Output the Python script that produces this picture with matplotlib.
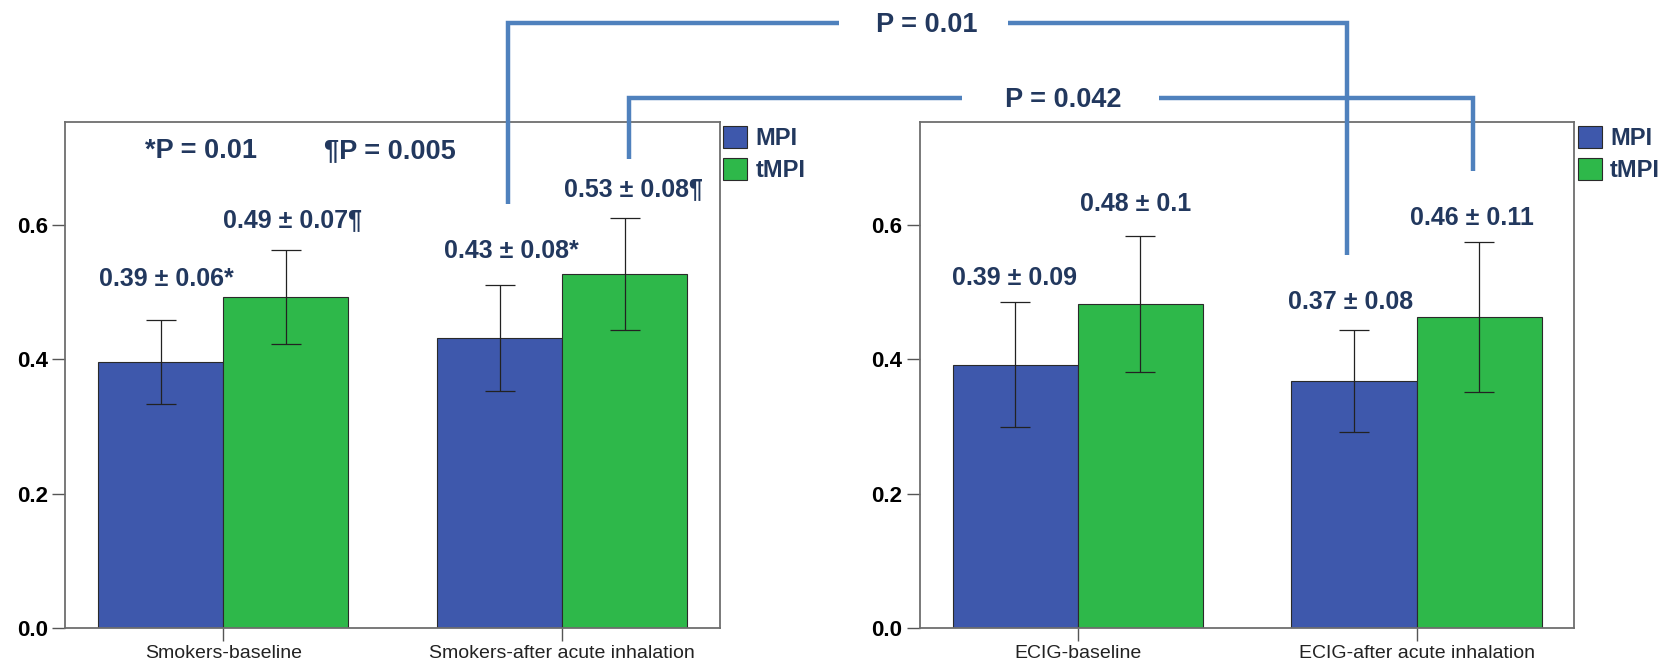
import matplotlib
matplotlib.use("Agg")
import matplotlib.pyplot as plt
import matplotlib.transforms as mtrans
from matplotlib.lines import Line2D
import numpy as np

plt.rcParams['font.family'] = ['Liberation Sans', 'DejaVu Sans']

W, H = 1679, 666

# ---- data ----
series = ["MPI", "tMPI"]
groups_left = ["Smokers-baseline", "Smokers-after acute inhalation"]
groups_right = ["ECIG-baseline", "ECIG-after acute inhalation"]

mpi_left = [0.396, 0.432]
mpi_left_err = [0.063, 0.079]
tmpi_left = [0.493, 0.527]
tmpi_left_err = [0.070, 0.083]

mpi_right = [0.392, 0.368]
mpi_right_err = [0.093, 0.076]
tmpi_right = [0.482, 0.463]
tmpi_right_err = [0.101, 0.112]

labels_left = ["0.39 ± 0.06*", "0.43 ± 0.08*", "0.49 ± 0.07¶", "0.53 ± 0.08¶"]
labels_right = ["0.39 ± 0.09", "0.37 ± 0.08", "0.48 ± 0.1", "0.46 ± 0.11"]

yticks = [0.0, 0.2, 0.4, 0.6]

# ---- style ----
c_mpi = '#3E58AC'
c_tmpi = '#2EB84A'
navy = '#22385e'
bracket_c = '#4F81BD'
bw = 0.369

# label layout: x in data units, baseline in figure pixels (from top)
lab_x_left = [-0.167, 0.850, 0.203, 1.211]
lab_y_left = [285.9, 257.8, 227.1, 196.4]
lab_x_right = [-0.187, 0.805, 0.170, 1.163]
lab_y_right = [285.2, 308.7, 211.2, 225.3]


def fx(x):
    return x / W


def fy(y):
    return 1 - y / H


def draw_panel(ax, groups, mpi, mpi_err, tmpi, tmpi_err, labels, lab_x, lab_y):
    x = np.arange(len(groups))
    b1 = ax.bar(x - bw / 2, mpi, bw, color=c_mpi, edgecolor='#2a2a2a', linewidth=0.8, label=series[0])
    b2 = ax.bar(x + bw / 2, tmpi, bw, color=c_tmpi, edgecolor='#2a2a2a', linewidth=0.8, label=series[1])
    ax.errorbar(x - bw / 2, mpi, yerr=mpi_err, fmt='none', ecolor='#222222',
                elinewidth=0.9, capsize=11, capthick=0.9)
    ax.errorbar(x + bw / 2, tmpi, yerr=tmpi_err, fmt='none', ecolor='#222222',
                elinewidth=0.9, capsize=11, capthick=0.9)
    ax.set_xlim(-0.466, 1.465)
    ax.set_ylim(0, 0.753)
    ax.set_xticks(x)
    ax.set_xticklabels(groups, fontsize=14, color='#222222')
    ax.set_yticks(yticks)
    ax.set_yticklabels(["{0:.1f}".format(t) for t in yticks], fontsize=16, fontweight='bold')
    ax.tick_params(axis='both', direction='out', length=9.5, width=1, color='#555555')
    ax.tick_params(axis='y', pad=3)
    ax.tick_params(axis='x', pad=3)
    for s in ax.spines.values():
        s.set_color('#6e6e6e')
        s.set_linewidth(1.3)
    leg = ax.legend(handles=[b1, b2], labels=series, loc='upper left', bbox_to_anchor=(1.0, 1.0),
                    frameon=False, prop={'weight': 'bold', 'size': 17}, labelcolor=navy,
                    handlelength=1.02, handleheight=1.06, handletextpad=0.35,
                    labelspacing=0.35, borderaxespad=0, borderpad=0.15)
    trans = mtrans.blended_transform_factory(ax.transData, ax.figure.transFigure)
    for t, lx, ly in zip(labels, lab_x, lab_y):
        ax.text(lx, fy(ly), t, transform=trans, ha='center', va='baseline',
                fontsize=18, fontweight='bold', color=navy, clip_on=False)


fig = plt.figure(figsize=(W / 100, H / 100), dpi=100)
ax1 = fig.add_axes([0.03895, 0.05736, 0.3898, 0.7589])
ax2 = fig.add_axes([0.5478, 0.05736, 0.3897, 0.7589])

draw_panel(ax1, groups_left, mpi_left, mpi_left_err, tmpi_left, tmpi_left_err,
           labels_left, lab_x_left, lab_y_left)
draw_panel(ax2, groups_right, mpi_right, mpi_right_err, tmpi_right, tmpi_right_err,
           labels_right, lab_x_right, lab_y_right)

# significance notes in left panel
fig.text(fx(201), fy(157.8), "*P = 0.01", ha='center', va='baseline',
         fontsize=19.5, fontweight='bold', color=navy)
fig.text(fx(390), fy(157.8), "¶P = 0.005", ha='center', va='baseline',
         fontsize=19.5, fontweight='bold', color=navy)


# brackets between panels
def bracket(pts):
    xs = [fx(p[0]) for p in pts]
    ys = [fy(p[1]) for p in pts]
    fig.add_artist(Line2D(xs, ys, color=bracket_c, linewidth=3.2,
                          solid_joinstyle='miter', solid_capstyle='butt',
                          transform=fig.transFigure))


bracket([(508.3, 203.5), (508.3, 22.7), (838.5, 22.7)])
bracket([(1008, 22.7), (1347.0, 22.7), (1347.0, 254.5)])
fig.text(fx(927), fy(31.7), "P = 0.01", ha='center', va='baseline',
         fontsize=19.5, fontweight='bold', color=navy)

bracket([(628.8, 158.5), (628.8, 97.7), (962.4, 97.7)])
bracket([(1158.6, 97.7), (1473.0, 97.7), (1473.0, 171)])
fig.text(fx(1063), fy(107.3), "P = 0.042", ha='center', va='baseline',
         fontsize=19.5, fontweight='bold', color=navy)

fig.savefig("out.png", dpi=100)
